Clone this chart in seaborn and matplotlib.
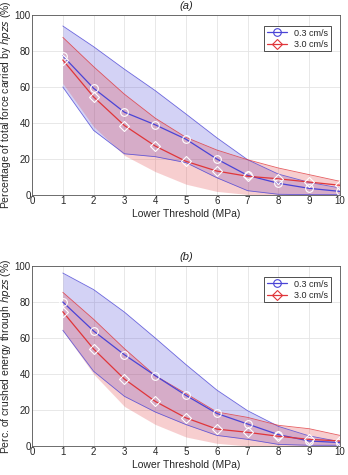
import numpy as np
import pandas as pd
import matplotlib
matplotlib.use("Agg")
import matplotlib.pyplot as plt
import seaborn as sns

sns.set_theme(style="whitegrid")
plt.rcParams['font.family'] = ['Liberation Sans', 'DejaVu Sans']

thresholds = [1, 2, 3, 4, 5, 6, 7, 8, 9, 10]
labels = ["0.3 cm/s", "3.0 cm/s"]

# panel (a): share of total force carried by hpzs
a_mean_slow = [77.3, 59.3, 46.0, 39.0, 31.0, 20.0, 10.9, 6.5, 3.7, 2.0]
a_upper_slow = [93.9, 82.4, 69.9, 58.0, 45.0, 31.8, 19.6, 11.6, 7.0, 3.9]
a_lower_slow = [60.0, 35.9, 22.9, 21.3, 18.0, 9.6, 2.4, 0.4, 0.2, 0.2]
a_mean_fast = [75.0, 54.5, 38.6, 27.2, 18.7, 13.3, 10.4, 9.0, 7.2, 5.4]
a_upper_fast = [87.6, 71.3, 56.0, 42.7, 32.0, 25.0, 19.6, 15.0, 11.3, 7.6]
a_lower_fast = [62.0, 38.0, 22.0, 13.0, 6.0, 2.0, 0.3, 0.0, 0.0, 0.0]

# panel (b): share of crushed energy through hpzs
b_mean_slow = [80.0, 63.9, 50.7, 39.1, 28.1, 18.1, 12.2, 6.3, 2.8, 1.9]
b_upper_slow = [96.1, 86.9, 74.4, 60.0, 45.2, 31.1, 19.6, 10.9, 5.6, 2.4]
b_lower_slow = [64.3, 41.5, 27.6, 18.9, 11.9, 5.9, 3.7, 0.9, 0.4, 0.4]
b_mean_fast = [74.6, 53.9, 37.2, 24.8, 15.6, 9.4, 7.6, 5.4, 3.7, 2.8]
b_upper_fast = [85.4, 70.4, 54.1, 39.1, 29.1, 18.9, 15.9, 11.5, 9.6, 5.9]
b_lower_fast = [64.0, 40.0, 22.0, 12.0, 5.0, 1.5, 0.0, 0.0, 0.0, 0.0]

blue = '#4a44d6'
red = '#e0363a'

fig = plt.figure(figsize=(3.48, 4.75), dpi=100)
ax_a = fig.add_axes([32 / 348, 1 - 195 / 475, 308 / 348, 180 / 475])
ax_b = fig.add_axes([32 / 348, 1 - 446 / 475, 308 / 348, 180 / 475])

panels = [
    (ax_a, "(a)", "Percentage of total force carried by $hpzs$ (%)",
     [a_mean_slow, a_mean_fast], [a_upper_slow, a_upper_fast], [a_lower_slow, a_lower_fast]),
    (ax_b, "(b)", "Perc. of crushed energy through $hpzs$ (%)",
     [b_mean_slow, b_mean_fast], [b_upper_slow, b_upper_fast], [b_lower_slow, b_lower_fast]),
]

for ax, title, ylabel, means, uppers, lowers in panels:
    rows = []
    for lab, m in zip(labels, means):
        for x, v in zip(thresholds, m):
            rows.append({'thr': x, 'pct': v, 'speed': lab})
    df = pd.DataFrame(rows)

    # bands: blue has both edges drawn, red only the upper one
    ax.fill_between(thresholds, lowers[0], uppers[0], color=blue, alpha=0.24, lw=0)
    ax.plot(thresholds, uppers[0], color=blue, lw=0.6, alpha=0.8)
    ax.plot(thresholds, lowers[0], color=blue, lw=0.6, alpha=0.8)
    ax.fill_between(thresholds, lowers[1], uppers[1], color=red, alpha=0.24, lw=0)
    ax.plot(thresholds, uppers[1], color=red, lw=0.6, alpha=0.8)

    sns.lineplot(data=df, x='thr', y='pct', hue='speed', style='speed',
                 palette=[blue, red], markers=['o', 'D'], dashes=False,
                 markersize=5.5, markerfacecolor='none', markeredgewidth=0.8,
                 lw=0.9, ax=ax)
    for line, col in zip(ax.lines[-2:], [blue, red]):
        line.set_markeredgecolor(col)

    ax.set_xlim(0, 10)
    ax.set_ylim(0, 100)
    ax.set_xticks(range(0, 11))
    ax.set_yticks(range(0, 101, 20))
    ax.tick_params(labelsize=7, pad=1, length=0)
    ax.set_xlabel("Lower Threshold (MPa)", fontsize=7.5, labelpad=2)
    ax.set_ylabel(ylabel, fontsize=7.5, labelpad=1)
    ax.set_title(title, fontsize=8, style='italic', pad=4)
    ax.grid(color='#e4e4e4', lw=0.6)
    for s in ax.spines.values():
        s.set_color('#555555')
        s.set_linewidth(0.6)

    leg = ax.legend(loc='upper right', fontsize=6.5, frameon=True, fancybox=False,
                    edgecolor='#333333', framealpha=1, borderpad=0.3,
                    labelspacing=0.25, handlelength=2.2, bbox_to_anchor=(0.985, 0.965))
    leg.get_frame().set_linewidth(0.6)
    for h, col in zip(leg.legend_handles, [blue, red]):
        h.set_markerfacecolor('none')
        h.set_markeredgecolor(col)

fig.savefig('out.png', dpi=100)
